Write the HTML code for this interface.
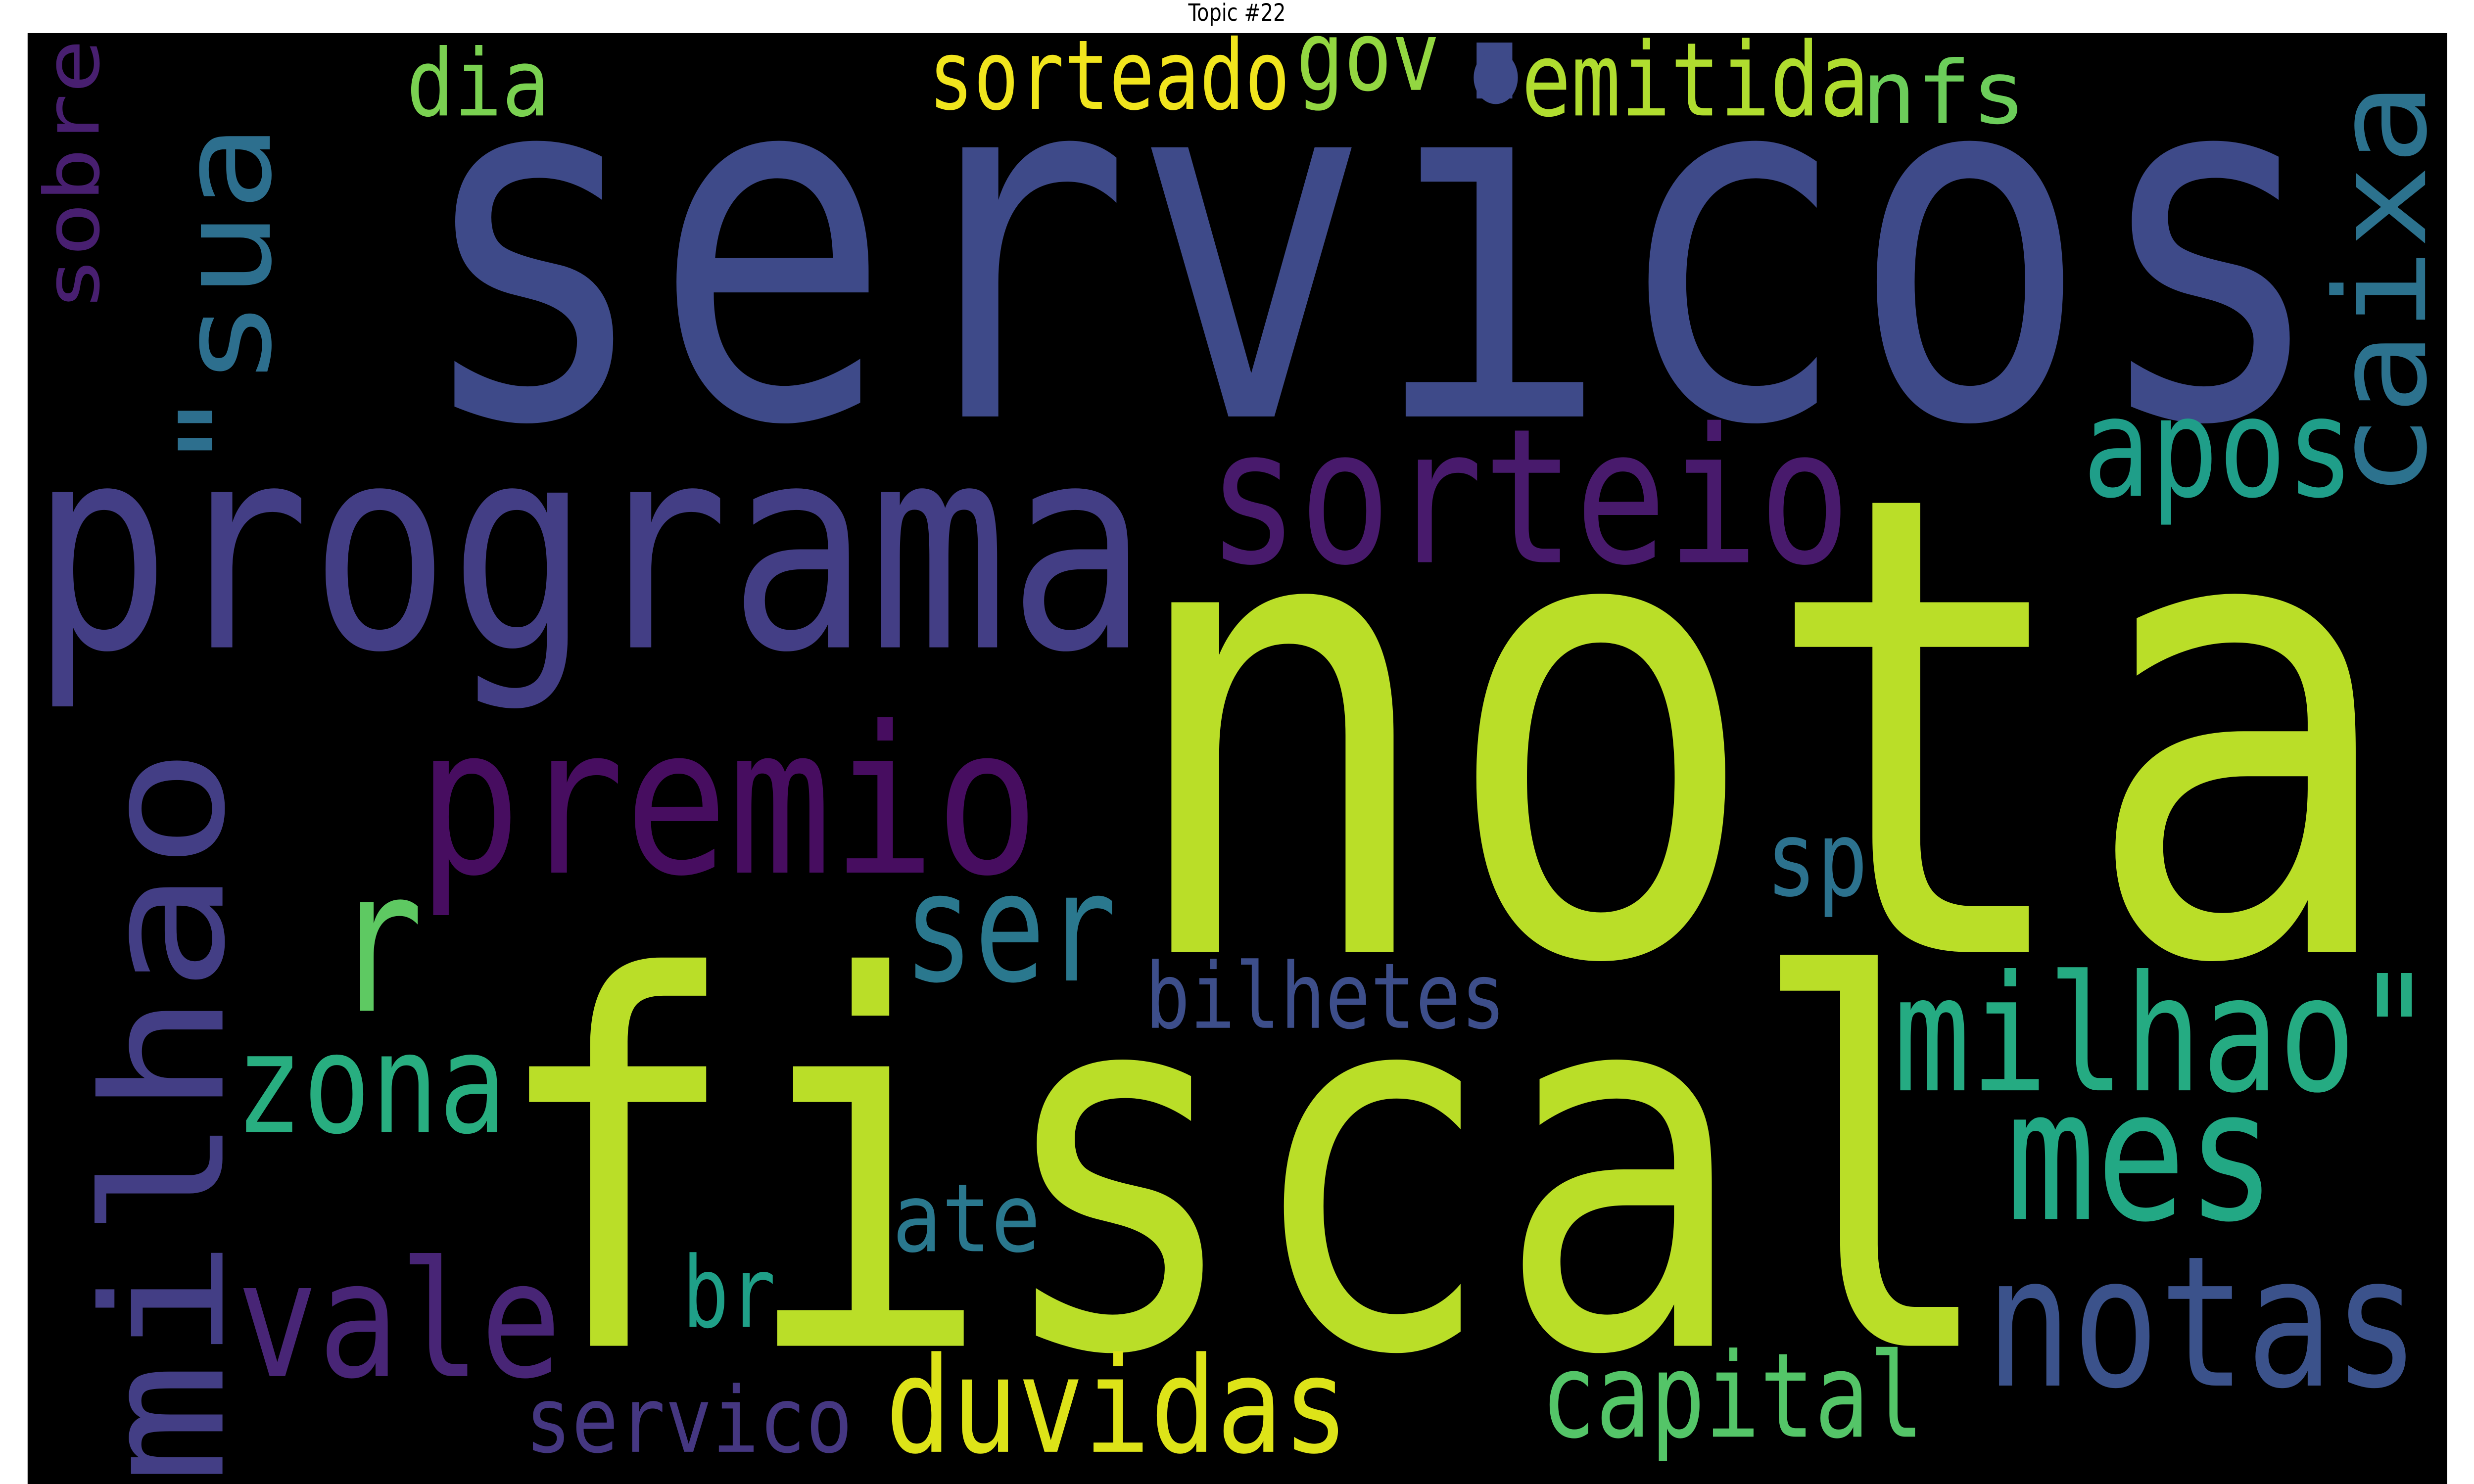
<!DOCTYPE html>
<html><head><meta charset="utf-8"><title>Topic #22</title>
<style>
html,body{margin:0;padding:0;background:#fff;width:100vw;height:100vh;overflow:hidden;}
#wrap{position:fixed;left:0;top:0;width:100vw;height:100vh;overflow:hidden;}
svg{display:block;position:absolute;left:0;top:0;width:100vw;height:100vh;}
.w{font-family:"DejaVu Sans Mono","Liberation Mono",monospace;}
</style></head>
<body>
<div id="wrap">
<svg viewBox="0 0 1568 784" preserveAspectRatio="none" xmlns="http://www.w3.org/2000/svg">
<rect x="0" y="0" width="1568" height="784" fill="#fff"/>
<text x="784" y="11" text-anchor="middle" font-family="DejaVu Sans, Liberation Sans, sans-serif" font-size="12.5" fill="#000">Topic #22</text>
<rect x="17.5" y="17.5" width="1533.5" height="766.5" fill="#000"/>
<g id="words" class="w"></g>
<circle cx="948" cy="41" r="14" fill="#3e4a89"/>
</svg>
</div>
<script>
const words = ["servicos","nota","fiscal","programa","sorteio","premio","apos","dia","sorteado","gov","emitida","nfs","r","zona","vale","servico","ser","br","ate","duvidas","bilhetes","sp","capital","milhao\"","mes","notas"];
const lefts = [280,734,329,30,772,272,1325,261,592,825,968,1183,219,154,156,336,578,436,569,566,729,1123,981,1206,1278,1265];
const rights = [1458,1498,1248,717,1166,651,1487,345,814,909,1181,1281,261,316,350,537,702,488,656,850,951,1180,1215,1536,1436,1527];
const baselines = [220,503,711,342,297,461,262,61,57.5,47.5,61,65,534,598,727,767,518,701,661,767,543,473,759,576,644,732];
const sizes = [260,338,270,150,99,108,73,49,51,51,54,46,105,73,85,48,80,52,50,70,48,55,62,85,96,96];
const colors = ["#3e4a89","#bade28","#bade28","#433e85","#481a6c","#470d60","#1f9e89","#7ad151","#f1e51d","#93d741","#b0dd2f","#6ccd5a","#5ec962","#28ae80","#482576","#453781","#2a788e","#1fa088","#2a788e","#dde318","#3d4e8a","#2c728e","#54c568","#25ab82","#22a884","#3b528b"];
const vWords = ["sobre","\"sua","caixa","milhao"];
const vBottoms = [161,245,257.5,777];
const vTops = [24,71,49,402];
const vBaseX = [62.5,171,1537,141];
const vSizes = [48,80,80,106];
const vColors = ["#481f70","#2d6f8e","#2c728e","#433e85"];
const NS = "http://www.w3.org/2000/svg";
const g = document.getElementById("words");
function slug(s){return s.replace(/[^a-z]/g,"");}
for (let i = 0; i < words.length; i++) {
  const t = document.createElementNS(NS, "text");
  const fs = sizes[i];
  t.setAttribute("x", lefts[i] - 0.07 * fs);
  t.setAttribute("y", baselines[i]);
  t.setAttribute("font-size", fs);
  t.setAttribute("fill", colors[i]);
  t.setAttribute("textLength", (rights[i] - lefts[i]) + 0.14 * fs);
  t.setAttribute("lengthAdjust", "spacingAndGlyphs");
  t.textContent = words[i];
  
  
  g.appendChild(t);
}
for (let i = 0; i < vWords.length; i++) {
  const t = document.createElementNS(NS, "text");
  const fs = vSizes[i];
  t.setAttribute("transform", "translate(" + vBaseX[i] + "," + vBottoms[i] + ") rotate(-90)");
  t.setAttribute("x", -0.07 * fs);
  t.setAttribute("y", 0);
  t.setAttribute("font-size", fs);
  t.setAttribute("fill", vColors[i]);
  t.setAttribute("textLength", (vBottoms[i] - vTops[i]) + 0.14 * fs);
  t.setAttribute("lengthAdjust", "spacingAndGlyphs");
  t.textContent = vWords[i];
  
  
  g.appendChild(t);
}
</script>
</body></html>
